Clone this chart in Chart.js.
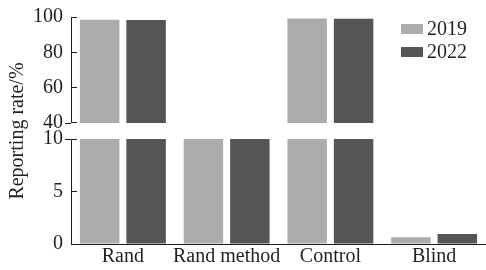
<!DOCTYPE html>
<html>
<head>
<meta charset="utf-8">
<script src="https://cdn.jsdelivr.net/npm/chart.js@4"></script>
<style>
  html, body { margin: 0; padding: 0; background: #fff; }
  #wrap { width: 486px; height: 270px; }
</style>
</head>
<body>
<div id="wrap"><canvas id="chart-rate"></canvas></div>
<script>
const categories = ["Rand", "Rand method", "Control", "Blind"];
const years = ["2019", "2022"];
const rate2019 = [98.5, 25, 99.2, 0.65];
const rate2022 = [98.3, 25, 99.0, 0.95];
const topTicks = [40, 100, 20];   // min, max, step
const bottomTicks = [0, 10, 5];

const colors = ["#abacae", "#545557"];
const ink = "#231f20";
const font = { family: "Liberation Serif", size: 20 };

const rates = [rate2019, rate2022];
const datasets = [];
years.forEach((year, i) => {
    ["yTop", "yBottom"].forEach((axis) => {
        datasets.push({
            label: year,
            data: rates[i],
            yAxisID: axis,
            stack: year,
            backgroundColor: colors[i],
            barPercentage: 0.85,
            categoryPercentage: 0.895,
        });
    });
});

// legend drawn inside the plot, top right
const cornerLegend = {
    id: "cornerLegend",
    afterDraw(chart) {
        const { ctx, chartArea } = chart;
        ctx.save();
        ctx.font = font.size + "px " + font.family;
        ctx.textBaseline = "middle";
        years.forEach((year, i) => {
            const x = chartArea.right - 85;
            const y = chartArea.top + 12 + i * 23;
            ctx.fillStyle = colors[i];
            ctx.fillRect(x, y - 5, 22, 10);
            ctx.fillStyle = ink;
            ctx.fillText(year, x + 26, y + 1);
        });
        ctx.restore();
    },
};

// little marks where the axis is broken
const breakMarks = {
    id: "breakMarks",
    afterDraw(chart) {
        const { ctx } = chart;
        const top = chart.scales.yTop, bottom = chart.scales.yBottom;
        ctx.save();
        ctx.strokeStyle = ink;
        ctx.lineWidth = 1;
        [top.getPixelForValue(topTicks[0]), bottom.getPixelForValue(bottomTicks[1])].forEach((py) => {
            ctx.beginPath();
            ctx.moveTo(top.right - 6, Math.round(py) + 0.5);
            ctx.lineTo(top.right, Math.round(py) + 0.5);
            ctx.stroke();
        });
        ctx.restore();
    },
};

const fixWidth = (scale) => {
    scale.width = 71;
    scale.paddingTop = 0;
    scale.paddingBottom = 0;
};

const yAxis = (range, weight) => ({
    type: "linear",
    position: "left",
    stack: "y",
    stackWeight: weight,
    min: range[0],
    max: range[1],
    afterFit: fixWidth,
    ticks: { stepSize: range[2], autoSkip: false, color: ink, font: font, padding: 14 },
    grid: { drawOnChartArea: false, tickLength: -6, color: ink },
    border: { color: ink },
});

new Chart(document.getElementById("chart-rate"), {
    type: "bar",
    data: { labels: categories, datasets: datasets },
    options: {
        responsive: true,
        maintainAspectRatio: false,
        animation: false,
        layout: { padding: { top: 17, right: 0, bottom: 0, left: 0 } },
        plugins: {
            legend: { display: false },
            tooltip: { enabled: false },
        },
        scales: {
            x: {
                grid: { display: false, drawTicks: false },
                border: { color: ink },
                ticks: { color: ink, font: font, maxRotation: 0, autoSkip: false, padding: 1 },
            },
            yBottom: yAxis(bottomTicks, 104),
            yGap: {
                type: "linear",
                position: "left",
                stack: "y",
                stackWeight: 16,
                afterFit: fixWidth,
                grid: { display: false },
                border: { display: false },
                ticks: { display: false },
                title: { display: true, text: "Reporting rate/%", color: ink, font: font, padding: { top: 6, bottom: 0 } },
            },
            yTop: yAxis(topTicks, 105),
        },
    },
    plugins: [cornerLegend, breakMarks],
});
</script>
</body>
</html>
